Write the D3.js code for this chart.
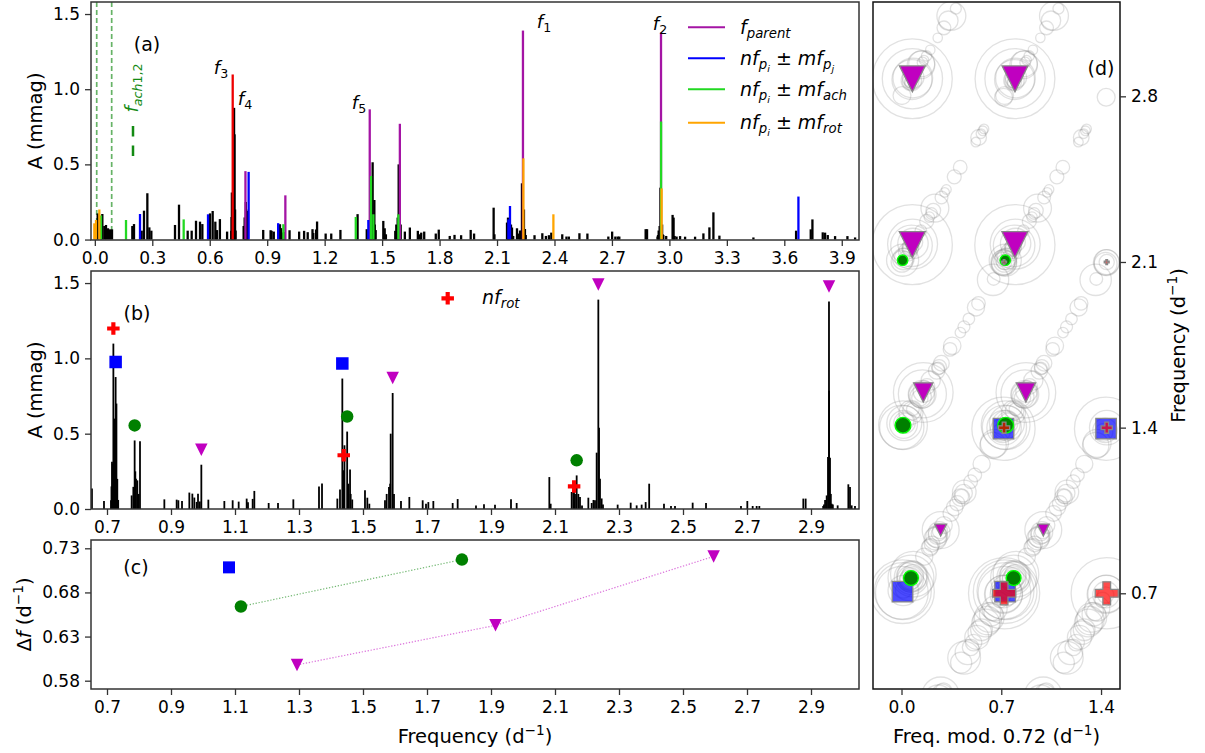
<!DOCTYPE html>
<html>
<head>
<meta charset="utf-8">
<script src="https://cdn.jsdelivr.net/npm/d3@7"></script>
<style>
body { margin: 0; background: #fff; }
text { font-family: "DejaVu Sans", sans-serif; fill: #000; white-space: pre; }
</style>
</head>
<body>
<svg id="fig" width="1205" height="753"></svg>
<script>
var PERIOD = 0.72;

// frequency (d^-1), amplitude (mmag) of every extracted peak not flagged as a combination
var spectrumOther = [
  [0.0148,0.174],[0.0392,0.170],[0.0496,0.090],[0.0583,0.097],[0.0688,0.075],[0.0792,0.068],[0.0897,0.068],
  [0.1958,0.090],[0.2045,0.103],[0.2446,0.059],[0.2567,0.192],[0.2742,0.308],[0.2846,0.081],[0.2951,0.059],
  [0.4186,0.097],[0.4395,0.232],[0.4848,0.059],[0.5057,0.059],[0.5283,0.125],[0.5492,0.119],[0.5614,0.103],
  [0.6014,0.174],[0.6153,0.190],[0.6292,0.119],[0.6379,0.063],[0.6530,0.136],[0.6906,0.053],
  [0.7125,0.058],[0.7140,0.150],[0.7156,0.313],[0.7178,0.300],[0.7225,0.600],[0.7270,0.876],[0.7295,0.700],[0.7322,0.200],[0.7350,0.060],
  [0.7770,0.090],[0.7823,0.147],[0.7845,0.100],[0.7885,0.250],[0.7906,0.200],[0.7948,0.190],[0.7990,0.100],
  [0.8792,0.064],[0.9177,0.062],[0.9230,0.058],[0.9344,0.053],[0.9667,0.102],[0.9729,0.076],[0.9802,0.047],[0.9900,0.050],
  [1.0167,0.062],[1.0667,0.053],[1.0927,0.058],[1.1115,0.049],[1.1365,0.069],[1.1406,0.044],[1.1552,0.067],[1.1604,0.120],
  [1.2052,0.040],[1.2344,0.040],[1.2823,0.064],[1.3719,0.169],
  [1.4198,0.069],[1.4398,0.257],[1.4505,0.514],[1.4595,0.263],[1.4615,0.100],[1.4664,0.063],
  [1.5062,0.124],[1.5135,0.075],[1.5198,0.035],[1.5687,0.058],[1.5740,0.100],[1.5812,0.146],[1.5865,0.500],[1.5969,0.100],
  [1.6187,0.053],[1.6448,0.080],[1.6865,0.058],[1.6969,0.035],[1.7042,0.046],[1.7198,0.053],[1.7802,0.040],[1.7958,0.066],
  [1.8531,0.024],[1.8781,0.031],[1.9125,0.029],[1.9625,0.064],[1.9802,0.040],
  [2.0823,0.212],[2.0865,0.035],[2.1521,0.113],[2.1573,0.146],[2.1597,0.050],[2.1625,0.100],[2.1729,0.100],[2.1781,0.080],[2.1844,0.024],[2.2042,0.075],
  [2.2146,0.040],[2.2202,0.060],[2.2250,0.058],[2.2302,0.374],[2.2406,0.200],[2.2458,0.070],[2.2500,0.030],[2.2958,0.029],
  [2.3365,0.042],[2.3552,0.024],[2.3708,0.029],[2.3833,0.046],[2.4406,0.035],[2.4625,0.020],[2.4750,0.020],[2.5302,0.042],[2.5719,0.040],
  [2.6812,0.020],[2.7010,0.053],[2.7177,0.020],[2.7302,0.020],[2.7385,0.020],[2.8760,0.069],[2.8833,0.069],
  [2.9380,0.020],[2.9406,0.030],[2.9440,0.060],[2.9490,0.090],[2.9531,0.345],[2.9620,0.100],[2.9646,0.035],[2.9683,0.030],[2.9833,0.024],
  [3.0167,0.164],[3.0219,0.146],[3.0271,0.024],[3.0375,0.020],[3.0558,0.023],[3.0819,0.019],[3.1341,0.019],[3.1776,0.041],
  [3.2089,0.081],[3.2298,0.181],[3.2611,0.026],[3.4387,0.014],[3.6615,0.059],[3.7380,0.068],[3.7468,0.134],
  [3.8007,0.048],[3.8129,0.046],[3.8269,0.030],[3.8651,0.023],[3.9296,0.023],[3.9696,0.014]
];
var rotPeak = [[0.7199, 1.098]];
var parentPeaks = [[0.7864,0.455],[0.9948,0.294],[1.4354,0.866],[1.5927,0.770],[2.2354,1.390],[2.9562,1.377]];
var pjCombos = [[0.2359,0.170],[0.5910,0.168],[0.8031,0.450],[0.9573,0.109],[1.4281,0.130],[2.1593,0.134],[2.1677,0.223],[3.6737,0.286]];
var achCombos = [[0.0322,0.160],[0.1628,0.130],[0.4639,0.134],[0.9844,0.102],[1.3625,0.150],[1.4421,0.423],[1.4543,0.168],[1.5849,0.168],[2.9565,0.785]];
var rotCombos = [[-0.0026,0.108],[0.0061,0.130],[0.0235,0.200],[2.2376,0.540],[2.3943,0.168],[2.9594,0.340]];
var achFreqs = [0.0098, 0.0880];

// families of peaks marked in (b) and (d)
var familyTri = [[0.9948,0.294],[1.5927,0.770],[2.2354,1.390],[2.9562,1.377]];
var familyCirc = [[0.7864,0.455],[1.4505,0.514],[2.1677,0.223]];
var familySq = [[0.7270,0.876],[1.4354,0.866]];
var rotHarmonics = [[0.7199,1.098],[1.4398,0.257],[2.1597,0.050]];

var ticksA = [0.0,0.3,0.6,0.9,1.2,1.5,1.8,2.1,2.4,2.7,3.0,3.3,3.6,3.9];
var ticksB = [0.7,0.9,1.1,1.3,1.5,1.7,1.9,2.1,2.3,2.5,2.7,2.9];
var ticksAmp = [0.0,0.5,1.0,1.5];
var ticksDf = [0.58,0.63,0.68,0.73];
var ticksModX = [0.0,0.7,1.4];
var ticksModY = [0.72,1.44,2.16,2.88];

var C_PARENT = '#a414a4', C_PJ = '#0000ff', C_ACH = '#22d822', C_ROT = '#ffa500', C_F3 = '#ee0000';
var C_TRI = '#c000c0', C_CIRC = '#008000';

var A = {l: 91, r: 859, t: 2, b: 240};
var B = {l: 91, r: 859, t: 271, b: 509};
var C = {l: 91, r: 859, t: 540, b: 689};
var D = {l: 873, r: 1120, t: 2, b: 689};

var svg = d3.select('#fig');
var xa = d3.scaleLinear([-0.02, 3.99], [A.l, A.r]);
var ya = d3.scaleLinear([-0.003, 1.58], [A.b, A.t]);
var xb = d3.scaleLinear([0.65, 3.05], [B.l, B.r]);
var yb = d3.scaleLinear([0, 1.58], [B.b, B.t]);
var yc = d3.scaleLinear([0.5706, 0.7394], [C.b, C.t]);
var xd = d3.scaleLinear([-0.2, 1.533], [D.l, D.r]);
var yd = d3.scaleLinear([0.304, 3.29], [D.b, D.t]);

var allPeaks = spectrumOther.concat(rotPeak, parentPeaks, pjCombos, achCombos, rotCombos);

var sym = {
  v: function (s) { var h = s / 2; return 'M' + (-h) + ',' + (-h) + 'L' + h + ',' + (-h) + 'L0,' + h + 'Z'; },
  s: function (s) { var h = s / 2; return 'M' + (-h) + ',' + (-h) + 'H' + h + 'V' + h + 'H' + (-h) + 'Z'; },
  o: function (s) { return d3.symbol(d3.symbolCircle, Math.PI * s * s / 4)(); },
  P: function (s) { return d3.symbol(d3.symbolCross, 5 * s * s / 9)(); }
};

function clip(id, b) {
  svg.append('clipPath').attr('id', id).append('rect')
    .attr('x', b.l).attr('y', b.t).attr('width', b.r - b.l).attr('height', b.b - b.t);
  return svg.append('g').attr('clip-path', 'url(#' + id + ')');
}

function frame(b, color) {
  svg.append('rect').attr('x', b.l).attr('y', b.t).attr('width', b.r - b.l).attr('height', b.b - b.t)
    .attr('fill', 'none').attr('stroke', color || '#333').attr('stroke-width', 1.5);
}

function axis(gen, tx, ty) {
  var g = svg.append('g').attr('transform', 'translate(' + tx + ',' + ty + ')').call(gen)
    .attr('font-family', 'DejaVu Sans, sans-serif').attr('font-size', 17);
  g.select('.domain').remove();
  g.selectAll('.tick line').attr('stroke', '#333').attr('stroke-width', 1.3);
  g.selectAll('.tick text').attr('fill', '#000').style('font-size', '17px');
  return g;
}

// mathtext-like label: parts are [text, level, italic]; level 1 sub, 2 sub-sub, -1 super
function mtext(parent, x, y, parts, size, anchor, color) {
  var t = parent.append('text').attr('x', x).attr('y', y)
    .attr('text-anchor', anchor || 'start').style('font-size', size + 'px');
  if (color) t.style('fill', color);
  var cur = 0;
  parts.forEach(function (p) {
    var lvl = p[1];
    var scale = lvl === 0 ? 1 : (lvl === 2 ? 0.5 : 0.7);
    var shift = lvl === 1 ? 0.22 * size : (lvl === 2 ? 0.36 * size : (lvl === -1 ? -0.42 * size : 0));
    t.append('tspan').attr('dy', shift - cur).style('font-size', (size * scale) + 'px')
      .style('font-style', p[2] ? 'italic' : 'normal').text(p[0]);
    cur = shift;
  });
  return t;
}

function bars(g, data, x, y, color, w) {
  g.append('g').selectAll('line').data(data).join('line')
    .attr('x1', function (d) { return x(d[0]); }).attr('x2', function (d) { return x(d[0]); })
    .attr('y1', y(0)).attr('y2', function (d) { return y(d[1]); })
    .attr('stroke', color).attr('stroke-width', w);
}

function markers(g, data, fx, fy, type, size, style) {
  var sel = g.append('g').selectAll('path').data(data).join('path')
    .attr('transform', function (d) { return 'translate(' + fx(d) + ',' + fy(d) + ')'; })
    .attr('d', function (d) { return sym[type](typeof size === 'function' ? size(d) : size); });
  Object.keys(style).forEach(function (k) { sel.attr(k, style[k]); });
  return sel;
}

var unitParts = [['(d', 0, false], ['\u22121', -1, false], [')', 0, false]];

// ---- (a) full spectrum
var pa = clip('clipA', A);
pa.append('g').selectAll('line').data(achFreqs).join('line')
  .attr('x1', xa).attr('x2', xa).attr('y1', A.t).attr('y2', A.b)
  .attr('stroke', '#66b366').attr('stroke-width', 1.7).attr('stroke-dasharray', '5,3');
bars(pa, spectrumOther, xa, ya, '#000', 2.3);
bars(pa, rotPeak, xa, ya, C_F3, 2.3);
bars(pa, parentPeaks, xa, ya, C_PARENT, 2.3);
bars(pa, pjCombos, xa, ya, C_PJ, 2.3);
bars(pa, achCombos, xa, ya, C_ACH, 2.3);
bars(pa, rotCombos, xa, ya, C_ROT, 2.3);
frame(A);
axis(d3.axisBottom(xa).tickValues(ticksA).tickFormat(d3.format('.1f')).tickSize(6).tickPadding(6), 0, A.b);
axis(d3.axisLeft(ya).tickValues(ticksAmp).tickFormat(d3.format('.1f')).tickSize(6).tickPadding(5), A.l, 0);

svg.append('text').attr('x', 147).attr('y', 51).attr('text-anchor', 'middle').style('font-size', '19px').text('(a)');
var peakLabels = [
  {x: 221, y: 74, n: '3'}, {x: 245, y: 105, n: '4'}, {x: 359, y: 109, n: '5'},
  {x: 544, y: 28, n: '1'}, {x: 660, y: 30, n: '2'}
];
peakLabels.forEach(function (p) {
  mtext(svg, p.x, p.y, [['f', 0, true], [p.n, 1, false]], 18, 'middle');
});
var achLabel = svg.append('g').attr('transform', 'translate(138,88) rotate(-90)');
mtext(achLabel, 0, 0, [['f', 0, true], ['ach', 1, true], ['1,2', 1, false]], 18, 'middle', '#138a13');
svg.append('line').attr('x1', 133).attr('x2', 133).attr('y1', 126).attr('y2', 156)
  .attr('stroke', '#138a13').attr('stroke-width', 2.5).attr('stroke-dasharray', '10.5,9');

var legendA = [
  {c: C_PARENT, p: [['f', 0, true], ['parent', 1, true]]},
  {c: C_PJ, p: [['n', 0, true], ['f', 0, true], ['p', 1, true], ['i', 2, true], [' \u00b1 ', 0, false], ['m', 0, true], ['f', 0, true], ['p', 1, true], ['j', 2, true]]},
  {c: C_ACH, p: [['n', 0, true], ['f', 0, true], ['p', 1, true], ['i', 2, true], [' \u00b1 ', 0, false], ['m', 0, true], ['f', 0, true], ['ach', 1, true]]},
  {c: C_ROT, p: [['n', 0, true], ['f', 0, true], ['p', 1, true], ['i', 2, true], [' \u00b1 ', 0, false], ['m', 0, true], ['f', 0, true], ['rot', 1, true]]}
];
var legendY = [27.3, 58.3, 89.3, 122.7];
legendA.forEach(function (e, i) {
  svg.append('line').attr('x1', 688).attr('x2', 725).attr('y1', legendY[i]).attr('y2', legendY[i])
    .attr('stroke', e.c).attr('stroke-width', 2);
  mtext(svg, 740, legendY[i] + 6.5, e.p, 19, 'start');
});

var ylabA = svg.append('g').attr('transform', 'translate(42,121) rotate(-90)');
ylabA.append('text').attr('text-anchor', 'middle').style('font-size', '19.5px').text('A (mmag)');

// ---- (b) zoom on the pulsation region
var pb = clip('clipB', B);
bars(pb, allPeaks, xb, yb, '#000', 1.8);
var pbm = svg.append('g');
var bx = function (d) { return xb(d[0]); };
var by = function (d) { return yb(d[1] + 0.1); };
markers(pbm, rotHarmonics, bx, by, 'P', 12.5, {fill: 'red'});
markers(pbm, familySq, bx, by, 's', 12.5, {fill: 'blue'});
markers(pbm, familyCirc, bx, by, 'o', 12.5, {fill: C_CIRC});
markers(pbm, familyTri, bx, by, 'v', 12.5, {fill: C_TRI});
frame(B);
axis(d3.axisBottom(xb).tickValues(ticksB).tickFormat(d3.format('.1f')).tickSize(6).tickPadding(6), 0, B.b);
axis(d3.axisLeft(yb).tickValues(ticksAmp).tickFormat(d3.format('.1f')).tickSize(6).tickPadding(5), B.l, 0);
svg.append('text').attr('x', 137).attr('y', 320).attr('text-anchor', 'middle').style('font-size', '19px').text('(b)');
svg.append('path').attr('transform', 'translate(447.7,298.3)').attr('d', sym.P(12.5)).attr('fill', 'red');
mtext(svg, 482, 304, [['n', 0, true], ['f', 0, true], ['rot', 1, true]], 19, 'start');
var ylabB = svg.append('g').attr('transform', 'translate(42,390) rotate(-90)');
ylabB.append('text').attr('text-anchor', 'middle').style('font-size', '19.5px').text('A (mmag)');

// ---- (c) spacing between consecutive members of each family
function spacings(fam) {
  var out = [];
  for (var i = 1; i < fam.length; i++) {
    out.push([(fam[i][0] + fam[i - 1][0]) / 2, fam[i][0] - fam[i - 1][0]]);
  }
  return out;
}
var dfSq = spacings(familySq), dfCirc = spacings(familyCirc), dfTri = spacings(familyTri);
var pc = clip('clipC', C);
var line = d3.line().x(function (d) { return xb(d[0]); }).y(function (d) { return yc(d[1]); });
pc.append('path').attr('d', line(dfCirc)).attr('fill', 'none').attr('stroke', C_CIRC)
  .attr('stroke-opacity', 0.55).attr('stroke-width', 1.2).attr('stroke-dasharray', '1.3,1.7');
pc.append('path').attr('d', line(dfTri)).attr('fill', 'none').attr('stroke', C_TRI)
  .attr('stroke-opacity', 0.55).attr('stroke-width', 1.2).attr('stroke-dasharray', '1.3,1.7');
var cx = function (d) { return xb(d[0]); };
var cy = function (d) { return yc(d[1]); };
markers(pc, dfSq, cx, cy, 's', 12, {fill: 'blue'});
markers(pc, dfCirc, cx, cy, 'o', 12.5, {fill: C_CIRC});
markers(pc, dfTri, cx, cy, 'v', 12.5, {fill: C_TRI});
frame(C);
axis(d3.axisBottom(xb).tickValues(ticksB).tickFormat(d3.format('.1f')).tickSize(6).tickPadding(6), 0, C.b);
axis(d3.axisLeft(yc).tickValues(ticksDf).tickFormat(d3.format('.2f')).tickSize(6).tickPadding(5), C.l, 0);
svg.append('text').attr('x', 136).attr('y', 574).attr('text-anchor', 'middle').style('font-size', '19px').text('(c)');
var ylabC = svg.append('g').attr('transform', 'translate(31,614.5) rotate(-90)');
mtext(ylabC, 0, 0, [['\u0394', 0, false], ['f', 0, true], [' (d', 0, false], ['\u22121', -1, false], [')', 0, false]], 19.5, 'middle');
mtext(svg, 475, 743, [['Frequency ', 0, false]].concat(unitParts), 19.5, 'middle');

// ---- (d) echelle diagram, folded on PERIOD and shown twice
function fold(f) { return ((f % PERIOD) + PERIOD) % PERIOD; }
function twice(data) {
  var out = [];
  data.forEach(function (d) {
    out.push({m: fold(d[0]), f: d[0], a: d[1]});
    out.push({m: fold(d[0]) + PERIOD, f: d[0], a: d[1]});
  });
  return out;
}
var pd = clip('clipD', D);
pd.append('g').selectAll('circle').data(twice(allPeaks.filter(function (d) { return d[0] > 0.1; }))).join('circle')
  .attr('cx', function (d) { return xd(d.m); }).attr('cy', function (d) { return yd(d.f); })
  .attr('r', function (d) { return 34 * Math.sqrt(d.a); })
  .attr('fill', 'none').attr('stroke', '#808080').attr('stroke-opacity', 0.24).attr('stroke-width', 1.3);
var dx = function (d) { return xd(d.m); };
var dy = function (d) { return yd(d.f); };
var dsize = function (d) { return 22 * Math.sqrt(d.a); };
markers(pd, twice(familyTri), dx, dy, 'v', dsize, {fill: C_TRI, stroke: '#888', 'stroke-width': 1.3});
markers(pd, twice(familySq), dx, dy, 's', dsize, {fill: 'blue', 'fill-opacity': 0.7, stroke: '#888', 'stroke-width': 1.3});
markers(pd, twice(familyCirc), dx, dy, 'o', dsize, {fill: C_CIRC, stroke: '#00ff00', 'stroke-width': 1.4});
markers(pd, twice(rotHarmonics), dx, dy, 'P', dsize, {fill: 'red', 'fill-opacity': 0.7, stroke: '#888', 'stroke-width': 1.3});
frame(D, '#111');
axis(d3.axisBottom(xd).tickValues(ticksModX).tickFormat(d3.format('.1f')).tickSize(6).tickPadding(6), 0, D.b);
axis(d3.axisRight(yd).tickValues(ticksModY).tickFormat(function (v) { return (Math.floor(v * 10 + 1e-6) / 10).toFixed(1); })
  .tickSize(6).tickPadding(5), D.r, 0);
svg.append('text').attr('x', 1101).attr('y', 75).attr('text-anchor', 'middle').style('font-size', '19px').text('(d)');
mtext(svg, 996.5, 743, [['Freq. mod. 0.72 ', 0, false]].concat(unitParts), 19.5, 'middle');
var ylabD = svg.append('g').attr('transform', 'translate(1185,345.5) rotate(-90)');
mtext(ylabD, 0, 0, [['Frequency ', 0, false]].concat(unitParts), 19.5, 'middle');
</script>
</body>
</html>
